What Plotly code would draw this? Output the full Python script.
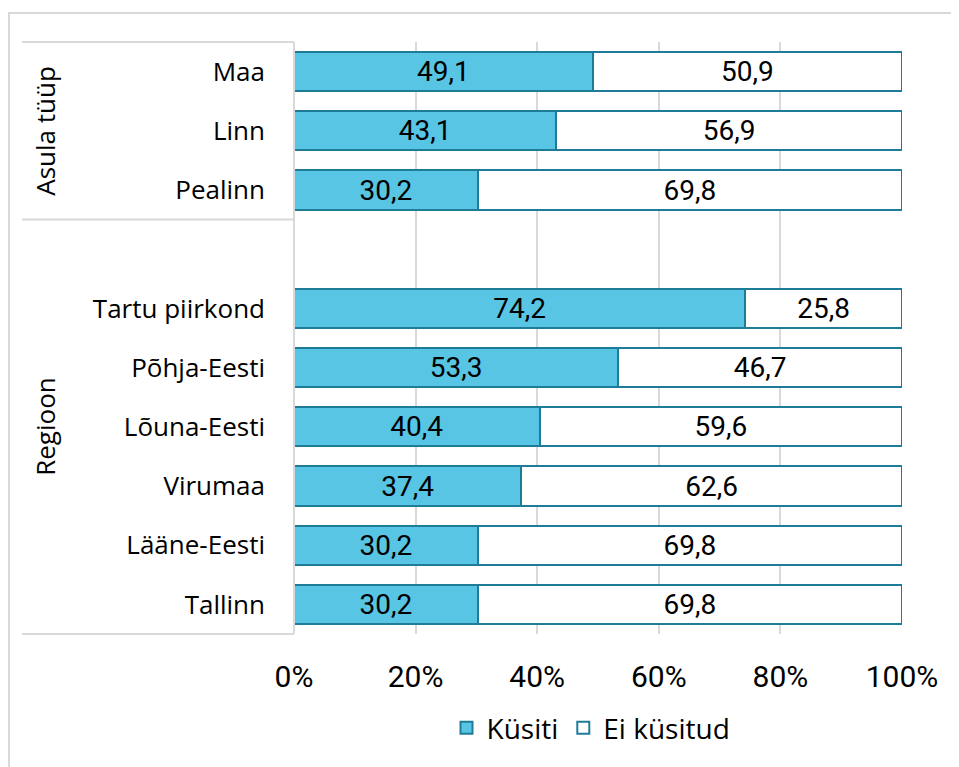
import plotly.graph_objects as go

categories = ["Maa", "Linn", "Pealinn", "", "Tartu piirkond", "Põhja-Eesti",
              "Lõuna-Eesti", "Virumaa", "Lääne-Eesti", "Tallinn"]
kusiti = [49.1, 43.1, 30.2, None, 74.2, 53.3, 40.4, 37.4, 30.2, 30.2]
ei_kusitud = [50.9, 56.9, 69.8, None, 25.8, 46.7, 59.6, 62.6, 69.8, 69.8]
x_ticks = [0, 20, 40, 60, 80, 100]
x_ticktext = ["0%", "20%", "40%", "60%", "80%", "100%"]
groups = [("Asula tüüp", 0, 3), ("Regioon", 3, 10)]

LFONT = "Open Sans"
NFONT = "Roboto"
FILL = "#57C5E3"
EDGE = "#1F7C99"
GRID = "#D9D9D9"

ypos = list(range(len(categories)))


def fmt(v):
    return "" if v is None else f"{v:.1f}".replace(".", ",")


fig = go.Figure()
fig.add_trace(go.Bar(
    y=ypos, x=kusiti, orientation="h", name="Küsiti",
    marker=dict(color=FILL, line=dict(color=EDGE, width=2)),
    text=[fmt(v) for v in kusiti], textposition="inside", insidetextanchor="middle",
    textfont=dict(family=NFONT, size=28, color="black"), width=0.66,
))
fig.add_trace(go.Bar(
    y=ypos, x=ei_kusitud, orientation="h", name="Ei küsitud",
    marker=dict(color="white", line=dict(color=EDGE, width=2)),
    text=[fmt(v) for v in ei_kusitud], textposition="inside", insidetextanchor="middle",
    textfont=dict(family=NFONT, size=28, color="black"), width=0.66,
))

W, H = 959, 767
L, R, T, B = 286, 65, 34, 141
plot_w = W - L - R
plot_h = H - T - B

fig.update_layout(
    width=W, height=H, barmode="stack",
    margin=dict(l=L, r=R, t=T, b=B, autoexpand=False),
    paper_bgcolor="white", plot_bgcolor="white",
    font=dict(family=LFONT, size=26, color="black"),
    uniformtext=dict(mode="show", minsize=10),
    legend=dict(orientation="h", x=(583 - L) / plot_w, xanchor="center",
                y=-(720 - (T + plot_h)) / plot_h, yanchor="middle",
                font=dict(family=LFONT, size=28), traceorder="normal",
                itemwidth=30),
    showlegend=True,
)
fig.update_xaxes(range=[0, 100], tickvals=x_ticks, ticktext=x_ticktext,
                 showgrid=True, gridcolor=GRID, gridwidth=2, zeroline=False,
                 showline=False, ticks="", ticklabelstandoff=22, automargin=False,
                 tickfont=dict(family=NFONT, size=30))
fig.update_yaxes(range=[len(categories) - 0.5, -0.5], tickvals=ypos,
                 ticktext=categories, showgrid=False, zeroline=False,
                 showline=False, ticks="", ticklabelstandoff=28, automargin=False,
                 tickfont=dict(family=LFONT, size=26))

n = len(categories)


def yfrac(slot):
    return 1 - slot / n


x_left = -(L - 14) / plot_w
shapes = []
for name, s, e in groups:
    shapes.append(dict(type="line", xref="paper", yref="paper", x0=x_left, x1=0,
                       y0=yfrac(s), y1=yfrac(s), line=dict(color=GRID, width=2)))
    fig.add_annotation(xref="paper", yref="paper", x=-(L - 37) / plot_w,
                       y=(yfrac(s) + yfrac(e)) / 2, text=name, textangle=-90,
                       showarrow=False, font=dict(family=LFONT, size=26, color="black"),
                       xanchor="center", yanchor="middle")
shapes.append(dict(type="line", xref="paper", yref="paper", x0=x_left, x1=0,
                   y0=0, y1=0, line=dict(color=GRID, width=2)))
shapes.append(dict(type="line", xref="paper", yref="paper", x0=0, x1=0,
                   y0=0, y1=1, line=dict(color=GRID, width=2)))
# outer chart border (extends past the right/bottom edge of the canvas)
shapes.append(dict(type="rect", xref="paper", yref="paper",
                   x0=-(L - 1) / plot_w, x1=1 + (R + 10) / plot_w,
                   y0=-(B + 10) / plot_h, y1=1 + (T - 5) / plot_h,
                   line=dict(color=GRID, width=2), layer="below"))
fig.update_layout(shapes=shapes)

fig.write_html("out.html")
